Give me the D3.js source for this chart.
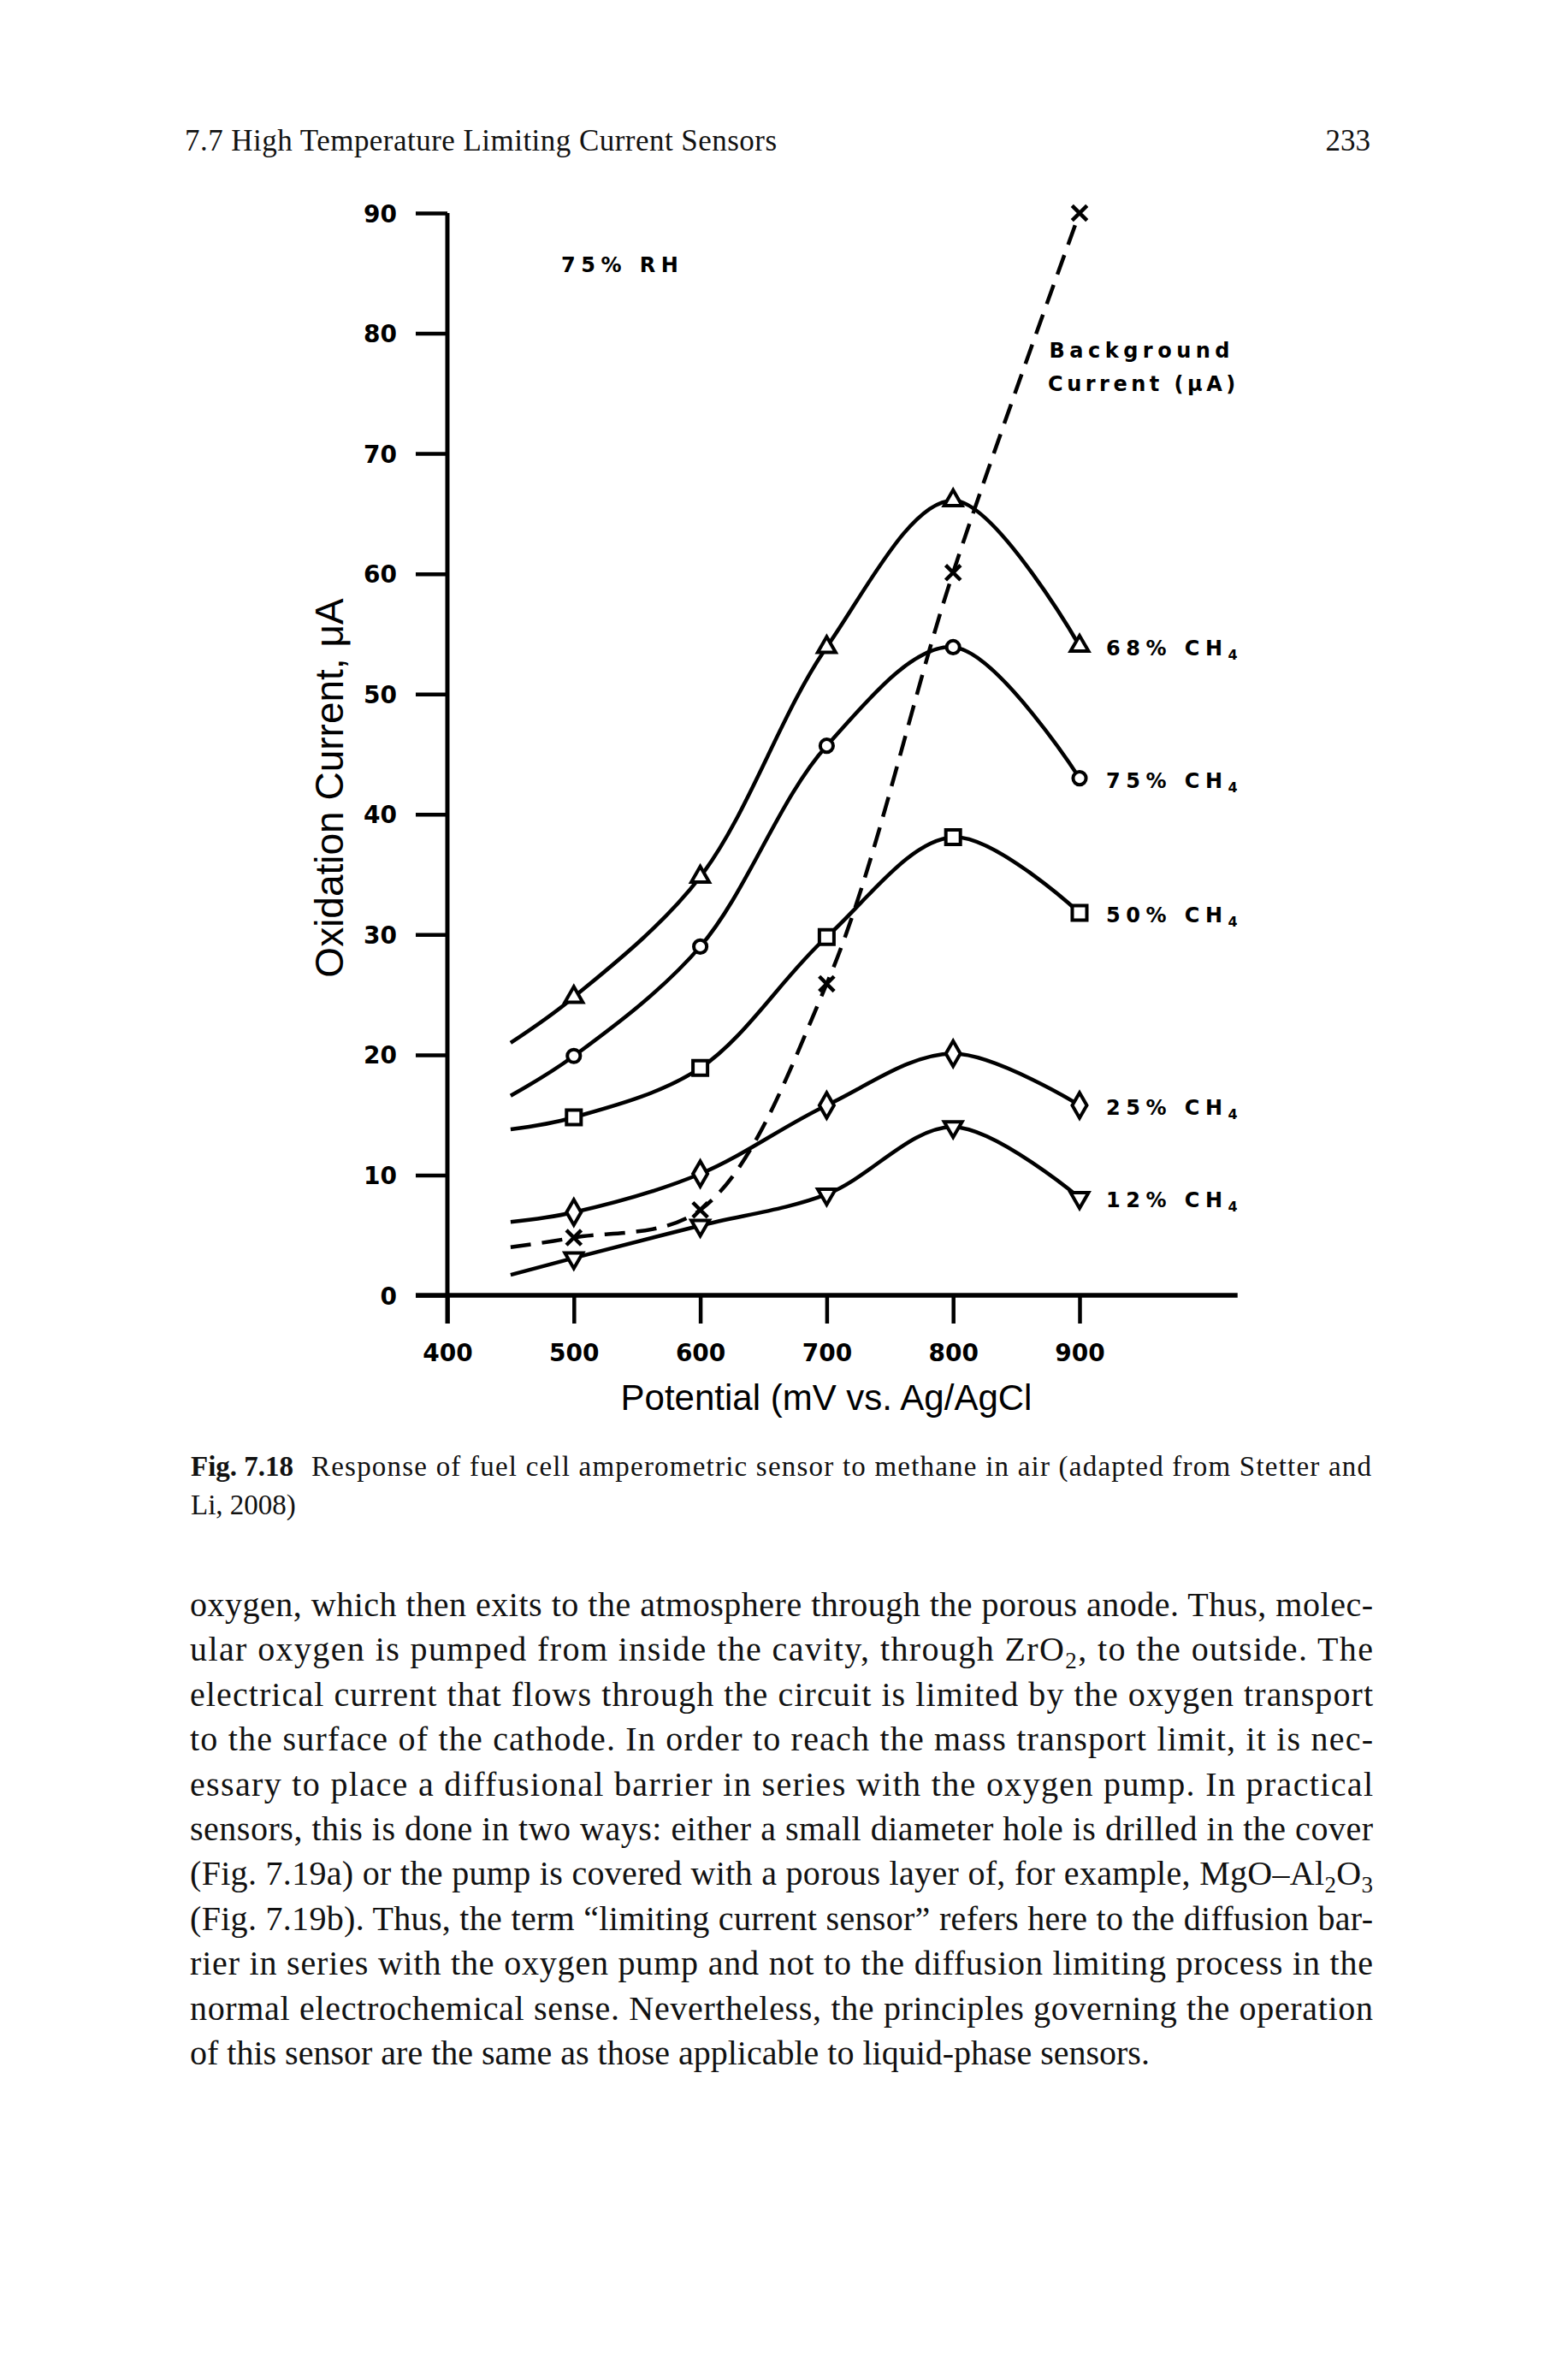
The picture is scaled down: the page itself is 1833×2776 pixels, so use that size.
<!DOCTYPE html>
<html lang="en">
  <head>
    <meta charset="utf-8" />
    <title>Fig. 7.18 Response of fuel cell amperometric sensor to methane in air</title>
    <script src="https://cdn.jsdelivr.net/npm/d3@7"></script>
    <style>
      html,
      body {
        margin: 0;
        padding: 0;
        background: #fff;
      }
      svg {
        display: block;
      }
      .serif {
        font-family: 'Liberation Serif', 'Times New Roman', serif;
        fill: #111;
      }
      .mark-label {
        font-family: 'DejaVu Sans', sans-serif;
        font-weight: bold;
        fill: #000;
      }
      .axis-title {
        font-family: 'Liberation Sans', Arial, sans-serif;
        fill: #000;
      }
    </style>
  </head>

  <body>
    <div id="page"></div>

    <script>
      // Potential (mV vs. Ag/AgCl); the first point is where each curve starts (no marker there)
      const potentials = [450, 500, 600, 700, 800, 900]

      // Oxidation current (uA)
      const ch68 = [21.0, 24.8, 34.8, 53.9, 66.1, 54.0]
      const ch75 = [16.6, 19.9, 29.0, 45.7, 53.9, 43.0]
      const ch50 = [13.8, 14.8, 18.9, 29.8, 38.1, 31.8]
      const ch25 = [6.1, 6.9, 10.1, 15.8, 20.1, 15.8]
      const ch12 = [1.7, 3.1, 5.8, 8.4, 14.0, 8.1]
      const background = [4.0, 4.8, 7.1, 25.9, 60.1, 90.0]

      const seriesNames = ['68% CH', '75% CH', '50% CH', '25% CH', '12% CH']
      const xTicks = [400, 500, 600, 700, 800, 900]
      const yTicks = [0, 10, 20, 30, 40, 50, 60, 70, 80, 90]

      const bodyLines = [
        'oxygen, which then exits to the atmosphere through the porous anode. Thus, molec-',
        'ular oxygen is pumped from inside the cavity, through ZrO{2}, to the outside. The',
        'electrical current that flows through the circuit is limited by the oxygen transport',
        'to the surface of the cathode. In order to reach the mass transport limit, it is nec-',
        'essary to place a diffusional barrier in series with the oxygen pump. In practical',
        'sensors, this is done in two ways: either a small diameter hole is drilled in the cover',
        '(Fig. 7.19a) or the pump is covered with a porous layer of, for example, MgO\u2013Al{2}O{3}',
        '(Fig. 7.19b). Thus, the term \u201climiting current sensor\u201d refers here to the diffusion bar-',
        'rier in series with the oxygen pump and not to the diffusion limiting process in the',
        'normal electrochemical sense. Nevertheless, the principles governing the operation',
        'of this sensor are the same as those applicable to liquid-phase sensors.',
      ]

      const W = 1833,
        H = 2776

      const svg = d3.select('#page').append('svg').attr('width', W).attr('height', H)
      svg.append('rect').attr('width', W).attr('height', H).attr('fill', '#fff')

      // Running head
      svg
        .append('text')
        .attr('class', 'serif')
        .attr('x', 216)
        .attr('y', 176)
        .attr('font-size', 35)
        .attr('textLength', 692)
        .attr('lengthAdjust', 'spacing')
        .text('7.7 High Temperature Limiting Current Sensors')
      svg
        .append('text')
        .attr('class', 'serif')
        .attr('x', 1602)
        .attr('y', 176)
        .attr('font-size', 35)
        .attr('text-anchor', 'end')
        .text('233')

      // Scales
      const x = d3.scaleLinear().domain([400, 900]).range([523, 1262])
      const y = d3.scaleLinear().domain([0, 90]).range([1514, 249])

      const chart = svg.append('g')

      // Y axis
      const yAxis = chart
        .append('g')
        .attr('transform', 'translate(' + x(400) + ',0)')
        .call(d3.axisLeft(y).tickValues(yTicks).tickSize(37).tickSizeOuter(0).tickPadding(22))
      yAxis.select('.domain').remove()
      yAxis.selectAll('.tick line').attr('stroke', '#000').attr('stroke-width', 4.5)
      yAxis
        .selectAll('.tick text')
        .attr('class', 'mark-label')
        .attr('font-size', 28)
        .attr('fill', '#000')
        .attr('dy', '0.36em')

      // X axis
      const xAxis = chart
        .append('g')
        .attr('transform', 'translate(0,' + y(0) + ')')
        .call(d3.axisBottom(x).tickValues(xTicks).tickSize(33).tickSizeOuter(0).tickPadding(24))
      xAxis.select('.domain').remove()
      xAxis.selectAll('.tick line').attr('stroke', '#000').attr('stroke-width', 4.5)
      xAxis.selectAll('.tick text').attr('class', 'mark-label').attr('font-size', 28).attr('fill', '#000')
      yAxis.attr('font-family', null).attr('font-size', null)
      xAxis.attr('font-family', null).attr('font-size', null)

      // Axis lines (x line runs on past 900 mV, y line runs down past 0 like the 400 tick)
      chart
        .append('line')
        .attr('x1', x(400) - 37)
        .attr('x2', x(1025))
        .attr('y1', y(0))
        .attr('y2', y(0))
        .attr('stroke', '#000')
        .attr('stroke-width', 5.5)
      chart
        .append('line')
        .attr('x1', x(400))
        .attr('x2', x(400))
        .attr('y1', y(90))
        .attr('y2', y(0) + 33)
        .attr('stroke', '#000')
        .attr('stroke-width', 5)

      // Axis titles
      svg
        .append('text')
        .attr('class', 'axis-title')
        .attr('x', 966)
        .attr('y', 1648)
        .attr('font-size', 42)
        .attr('text-anchor', 'middle')
        .text('Potential (mV vs. Ag/AgCl')
      svg
        .append('text')
        .attr('class', 'axis-title')
        .attr('transform', 'translate(401,921) rotate(-90)')
        .attr('font-size', 46)
        .attr('text-anchor', 'middle')
        .text('Oxidation Current, \u03bcA')

      // Curves
      const line = d3
        .line()
        .x((d) => x(d[0]))
        .y((d) => y(d[1]))
        .curve(d3.curveCatmullRom.alpha(0.5))

      const zip = (vals) => potentials.map((p, i) => [p, vals[i]])

      const timesType = d3.symbolTimes || d3.symbolX
      const series = [
        { name: seriesNames[0], values: ch68, sym: d3.symbolTriangle, size: 190, rot: 0 },
        { name: seriesNames[1], values: ch75, sym: d3.symbolCircle, size: 180, rot: 0 },
        { name: seriesNames[2], values: ch50, sym: d3.symbolSquare, size: 290, rot: 0 },
        { name: seriesNames[3], values: ch25, sym: d3.symbolDiamond, size: 250, rot: 0 },
        { name: seriesNames[4], values: ch12, sym: d3.symbolTriangle, size: 190, rot: 180 },
      ]

      // Background current (dashed)
      const bgPts = zip(background)
      chart
        .append('path')
        .datum(bgPts)
        .attr('d', line)
        .attr('fill', 'none')
        .attr('stroke', '#000')
        .attr('stroke-width', 4.5)
        .attr('stroke-dasharray', '24,13')

      series.forEach((s) => {
        chart
          .append('path')
          .datum(zip(s.values))
          .attr('d', line)
          .attr('fill', 'none')
          .attr('stroke', '#000')
          .attr('stroke-width', 4.5)
      })

      chart
        .selectAll('.bg-mark')
        .data(bgPts.slice(1))
        .join('path')
        .attr('class', 'bg-mark')
        .attr('transform', (d) => 'translate(' + x(d[0]) + ',' + y(d[1]) + ')')
        .attr('d', d3.symbol().type(timesType).size(200))
        .attr('fill', 'none')
        .attr('stroke', '#000')
        .attr('stroke-width', 4.5)

      series.forEach((s) => {
        chart
          .append('g')
          .selectAll('path')
          .data(zip(s.values).slice(1))
          .join('path')
          .attr('transform', (d) => 'translate(' + x(d[0]) + ',' + y(d[1]) + ') rotate(' + s.rot + ')')
          .attr('d', d3.symbol().type(s.sym).size(s.size))
          .attr('fill', '#fff')
          .attr('stroke', '#000')
          .attr('stroke-width', 4)

        // label next to the 900 mV point
        const last = s.values[s.values.length - 1]
        const t = chart
          .append('text')
          .attr('class', 'mark-label')
          .attr('x', x(900) + 31)
          .attr('y', y(last) + 11)
          .attr('font-size', 24)
          .attr('letter-spacing', 6.5)
        t.append('tspan').text(s.name)
        t.append('tspan').attr('font-size', 16).attr('dy', 5).text('4')
      })

      // Annotations
      chart
        .append('text')
        .attr('class', 'mark-label')
        .attr('x', x(490))
        .attr('y', y(85.1))
        .attr('font-size', 24)
        .attr('letter-spacing', 6.5)
        .text('75% RH')
      chart
        .append('text')
        .attr('class', 'mark-label')
        .attr('x', x(876))
        .attr('y', y(78))
        .attr('font-size', 24)
        .attr('letter-spacing', 5.5)
        .text('Background')
      chart
        .append('text')
        .attr('class', 'mark-label')
        .attr('x', x(875))
        .attr('y', y(75.2))
        .attr('font-size', 24)
        .attr('letter-spacing', 4.5)
        .text('Current (\u03bcA)')

      // Caption
      svg
        .append('text')
        .attr('class', 'serif')
        .attr('x', 223)
        .attr('y', 1725)
        .attr('font-size', 33)
        .attr('font-weight', 'bold')
        .text('Fig. 7.18')
      svg
        .append('text')
        .attr('class', 'serif')
        .attr('x', 364)
        .attr('y', 1725)
        .attr('font-size', 33)
        .attr('textLength', 1239)
        .attr('lengthAdjust', 'spacing')
        .text('Response of fuel cell amperometric sensor to methane in air (adapted from Stetter and')
      svg
        .append('text')
        .attr('class', 'serif')
        .attr('x', 223)
        .attr('y', 1770)
        .attr('font-size', 33)
        .text('Li, 2008)')

      // Body text, justified except the last line
      bodyLines.forEach((ln, i) => {
        const t = svg
          .append('text')
          .attr('class', 'serif')
          .attr('x', 222)
          .attr('y', 1889 + i * 52.4)
          .attr('font-size', 40)
        if (i < bodyLines.length - 1) t.attr('textLength', 1383).attr('lengthAdjust', 'spacing')
        const parts = ln.split(/(\{\d\})/)
        let shifted = false
        parts.forEach((p) => {
          if (!p) return
          const m = p.match(/^\{(\d)\}$/)
          if (m) {
            t.append('tspan').attr('font-size', 27).attr('dy', 9).text(m[1])
            shifted = true
          } else {
            const sp = t.append('tspan').text(p)
            if (shifted) {
              sp.attr('dy', -9)
              shifted = false
            }
          }
        })
      })
    </script>
  </body>
</html>
